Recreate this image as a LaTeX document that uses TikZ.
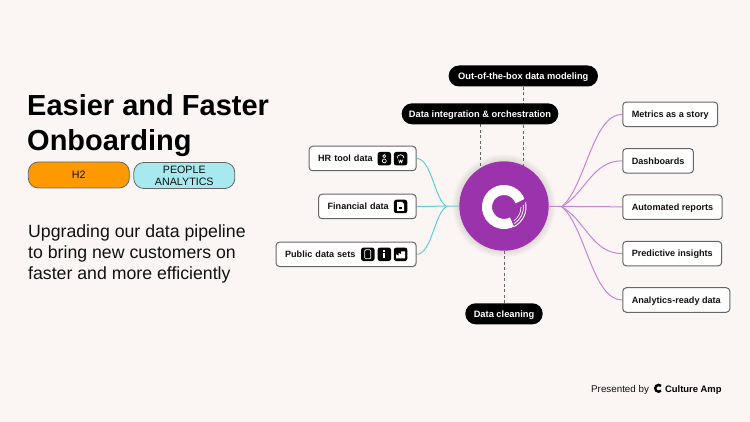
\documentclass[tikz,border=0pt]{standalone}
\usepackage{fontspec}
\setmainfont{Liberation Sans}
\usetikzlibrary{backgrounds}
\definecolor{paper}{HTML}{FBF6F3}
\definecolor{plum}{HTML}{9B33AC}
\definecolor{lilac}{HTML}{C684D8}
\definecolor{teal}{HTML}{5CD0D2}
\definecolor{amber}{HTML}{FF9900}
\definecolor{aqua}{HTML}{A6E9EE}
\definecolor{ink}{HTML}{111111}
\tikzset{
  itembox/.style={draw=black!60,line width=1pt,fill=white,rounded corners=3.5pt,minimum height=24.5pt,
    font=\fontsize{9.1}{11}\selectfont\bfseries,text=ink,inner xsep=9pt,inner ysep=0pt,text height=6.6pt,text depth=0pt},
  blackpill/.style={fill=black,rounded corners=10.4pt,minimum height=21pt,text=white,
    font=\fontsize{9.3}{11}\selectfont\bfseries,inner sep=0pt,text height=6.6pt,text depth=0pt},
  tagpill/.style={draw=black!60,line width=.8pt,rounded corners=10pt,minimum width=101pt,minimum height=26pt,
    font=\fontsize{10.7}{12}\selectfont,text=ink,align=center,inner sep=0pt},
  iconbox/.style={fill=black,rounded corners=2.5pt,minimum size=13.5pt,inner sep=0pt},
  glyph/.style={draw=white,line width=.7pt},
  link/.style={line width=1pt},
  dashlink/.style={draw=black!60,line width=.9pt,dash pattern=on 3pt off 2.5pt}
}
\begin{document}
\begin{tikzpicture}[x=1pt,y=-1pt]
\useasboundingbox (0,0) rectangle (750,422);

% left column
\node[anchor=west,inner sep=0pt,text=black,align=left,font=\fontsize{29}{35}\selectfont\bfseries] (title) at (27,126) {Easier and Faster\\Onboarding};
\node[tagpill,fill=amber] (horizon) at (78.8,175) {H2};
\node[tagpill,fill=aqua] (theme) at (184.3,175.5) {PEOPLE\\ANALYTICS};
\node[anchor=west,inner sep=0pt,text=ink,align=left,font=\fontsize{17.7}{21}\selectfont] (blurb) at (28,254) {Upgrading our data pipeline\\to bring new customers on\\faster and more efficiently};

% centre
\node[circle,fill=plum,minimum size=89.4pt,inner sep=0pt] (core) at (504,206) {};
\begin{scope}[shift={(504,207)},y=1pt]
  \draw[white,line width=10pt] (20:17) arc (20:298:17);
  \draw[white,line width=1pt] (12:22) arc (12:-62:22);
  \draw[white,line width=.8pt] (6:19.5) arc (6:-58:19.5);
  \draw[white,line width=.7pt] (0:17) arc (0:-55:17);
\end{scope}

% sources
\node[itembox,anchor=east,minimum width=107pt,text width=89pt] (hrdata) at (416.6,158.5) {HR tool data};
\node[itembox,anchor=east,minimum width=97.5pt,text width=79.5pt] (findata) at (416.6,206.5) {Financial data};
\node[itembox,anchor=east,minimum width=140pt,text width=122pt] (pubdata) at (416.6,254.3) {Public data sets};
\node[iconbox] (greenico) at (384.3,158.7) {};
\node[iconbox] (dayico) at (400.6,158.7) {};
\node[iconbox] (sheetico) at (400.6,206.5) {};
\node[iconbox] (phoneico) at (367.8,254.3) {};
\node[iconbox] (infoico) at (384.3,254.3) {};
\node[iconbox] (chartico) at (400.6,254.3) {};
\draw[glyph] (greenico) ++(0,2.2) circle (2);
\draw[glyph] (greenico) ++(0,-2.6) circle (1.5);
\draw[glyph] (dayico) ++(-3.5,-.5) arc (180:360:3.5);
\draw[glyph] (dayico) ++(-2,1) -- ++(1,3) -- ++(1,-2.5) -- ++(1,2.5) -- ++(1,-3);
\fill[white] (sheetico) ++(-3.5,-4.5) -- ++(5,0) -- ++(2,2) -- ++(0,7) -- ++(-7,0) -- cycle;
\fill[black] (sheetico) ++(-1.8,1) rectangle ++(3.6,2);
\draw[glyph,rounded corners=1pt] (phoneico) ++(-3,-4.5) rectangle ++(6,9);
\fill[white] (infoico) ++(-.9,-4) rectangle ++(1.8,1.8);
\fill[white] (infoico) ++(-.9,-1.2) rectangle ++(1.8,5.2);
\fill[white] (chartico) ++(-4.5,4) -- ++(0,-4) -- ++(2.5,1.5) -- ++(0,-3) -- ++(2.5,1.5) -- ++(0,-3) -- ++(4,0) -- ++(0,7) -- cycle;

% outputs
\node[itembox,anchor=west] (metrics) at (622.3,114.3) {Metrics as a story};
\node[itembox,anchor=west] (boards) at (622.3,160.8) {Dashboards};
\node[itembox,anchor=west] (reports) at (622.3,207.2) {Automated reports};
\node[itembox,anchor=west] (insights) at (622.3,253.6) {Predictive insights};
\node[itembox,anchor=west] (ready) at (622.3,300) {Analytics-ready data};

% black labels
\node[blackpill,minimum width=149.3pt] (modeling) at (523.3,76) {Out-of-the-box data modeling};
\node[blackpill,minimum width=156.6pt] (integration) at (480,113.8) {Data integration \& orchestration};
\node[blackpill,minimum width=77.4pt] (cleaning) at (504,313.8) {Data cleaning};

% footer
\node[anchor=base west,inner sep=0pt,text=ink,font=\fontsize{9.8}{11}\selectfont] (presented) at (591,392) {Presented by};
\begin{scope}[shift={(658.6,388.3)},y=1pt]
  \draw[black,line width=2.4pt] (45:3.4) arc (45:315:3.4);
\end{scope}
\node[anchor=base west,inner sep=0pt,text=black,font=\fontsize{9.4}{11}\selectfont\bfseries] (brand) at (665,392) {Culture Amp};

\begin{scope}[on background layer]
  \fill[paper] (0,0) rectangle (750,422);
  \foreach \r in {1,2,...,7}
    \fill[black,opacity=.015] (core) circle (44.7+\r);
  \coordinate (hubleft) at (446.7,206.5);
  \coordinate (hubright) at (561.7,206.7);
  \draw[link,teal] (findata) -- (core);
  \draw[link,teal] (hrdata.east) .. controls +(15,0) and +(-12,-6) .. (hubleft);
  \draw[link,teal] (pubdata.east) .. controls +(15,0) and +(-12,6) .. (hubleft);
  \draw[link,lilac] (core) -- (reports);
  \foreach \n/\d in {metrics/-20,boards/-14,insights/14,ready/20}
    \draw[link,lilac] (hubright) .. controls +(24,\d) and +(-30,0) .. (\n.west);
  \draw[dashlink] (modeling) -- (modeling |- core);
  \draw[dashlink] (integration) -- (integration |- core);
  \draw[dashlink] (core) -- (cleaning);
\end{scope}
\end{tikzpicture}
\end{document}
